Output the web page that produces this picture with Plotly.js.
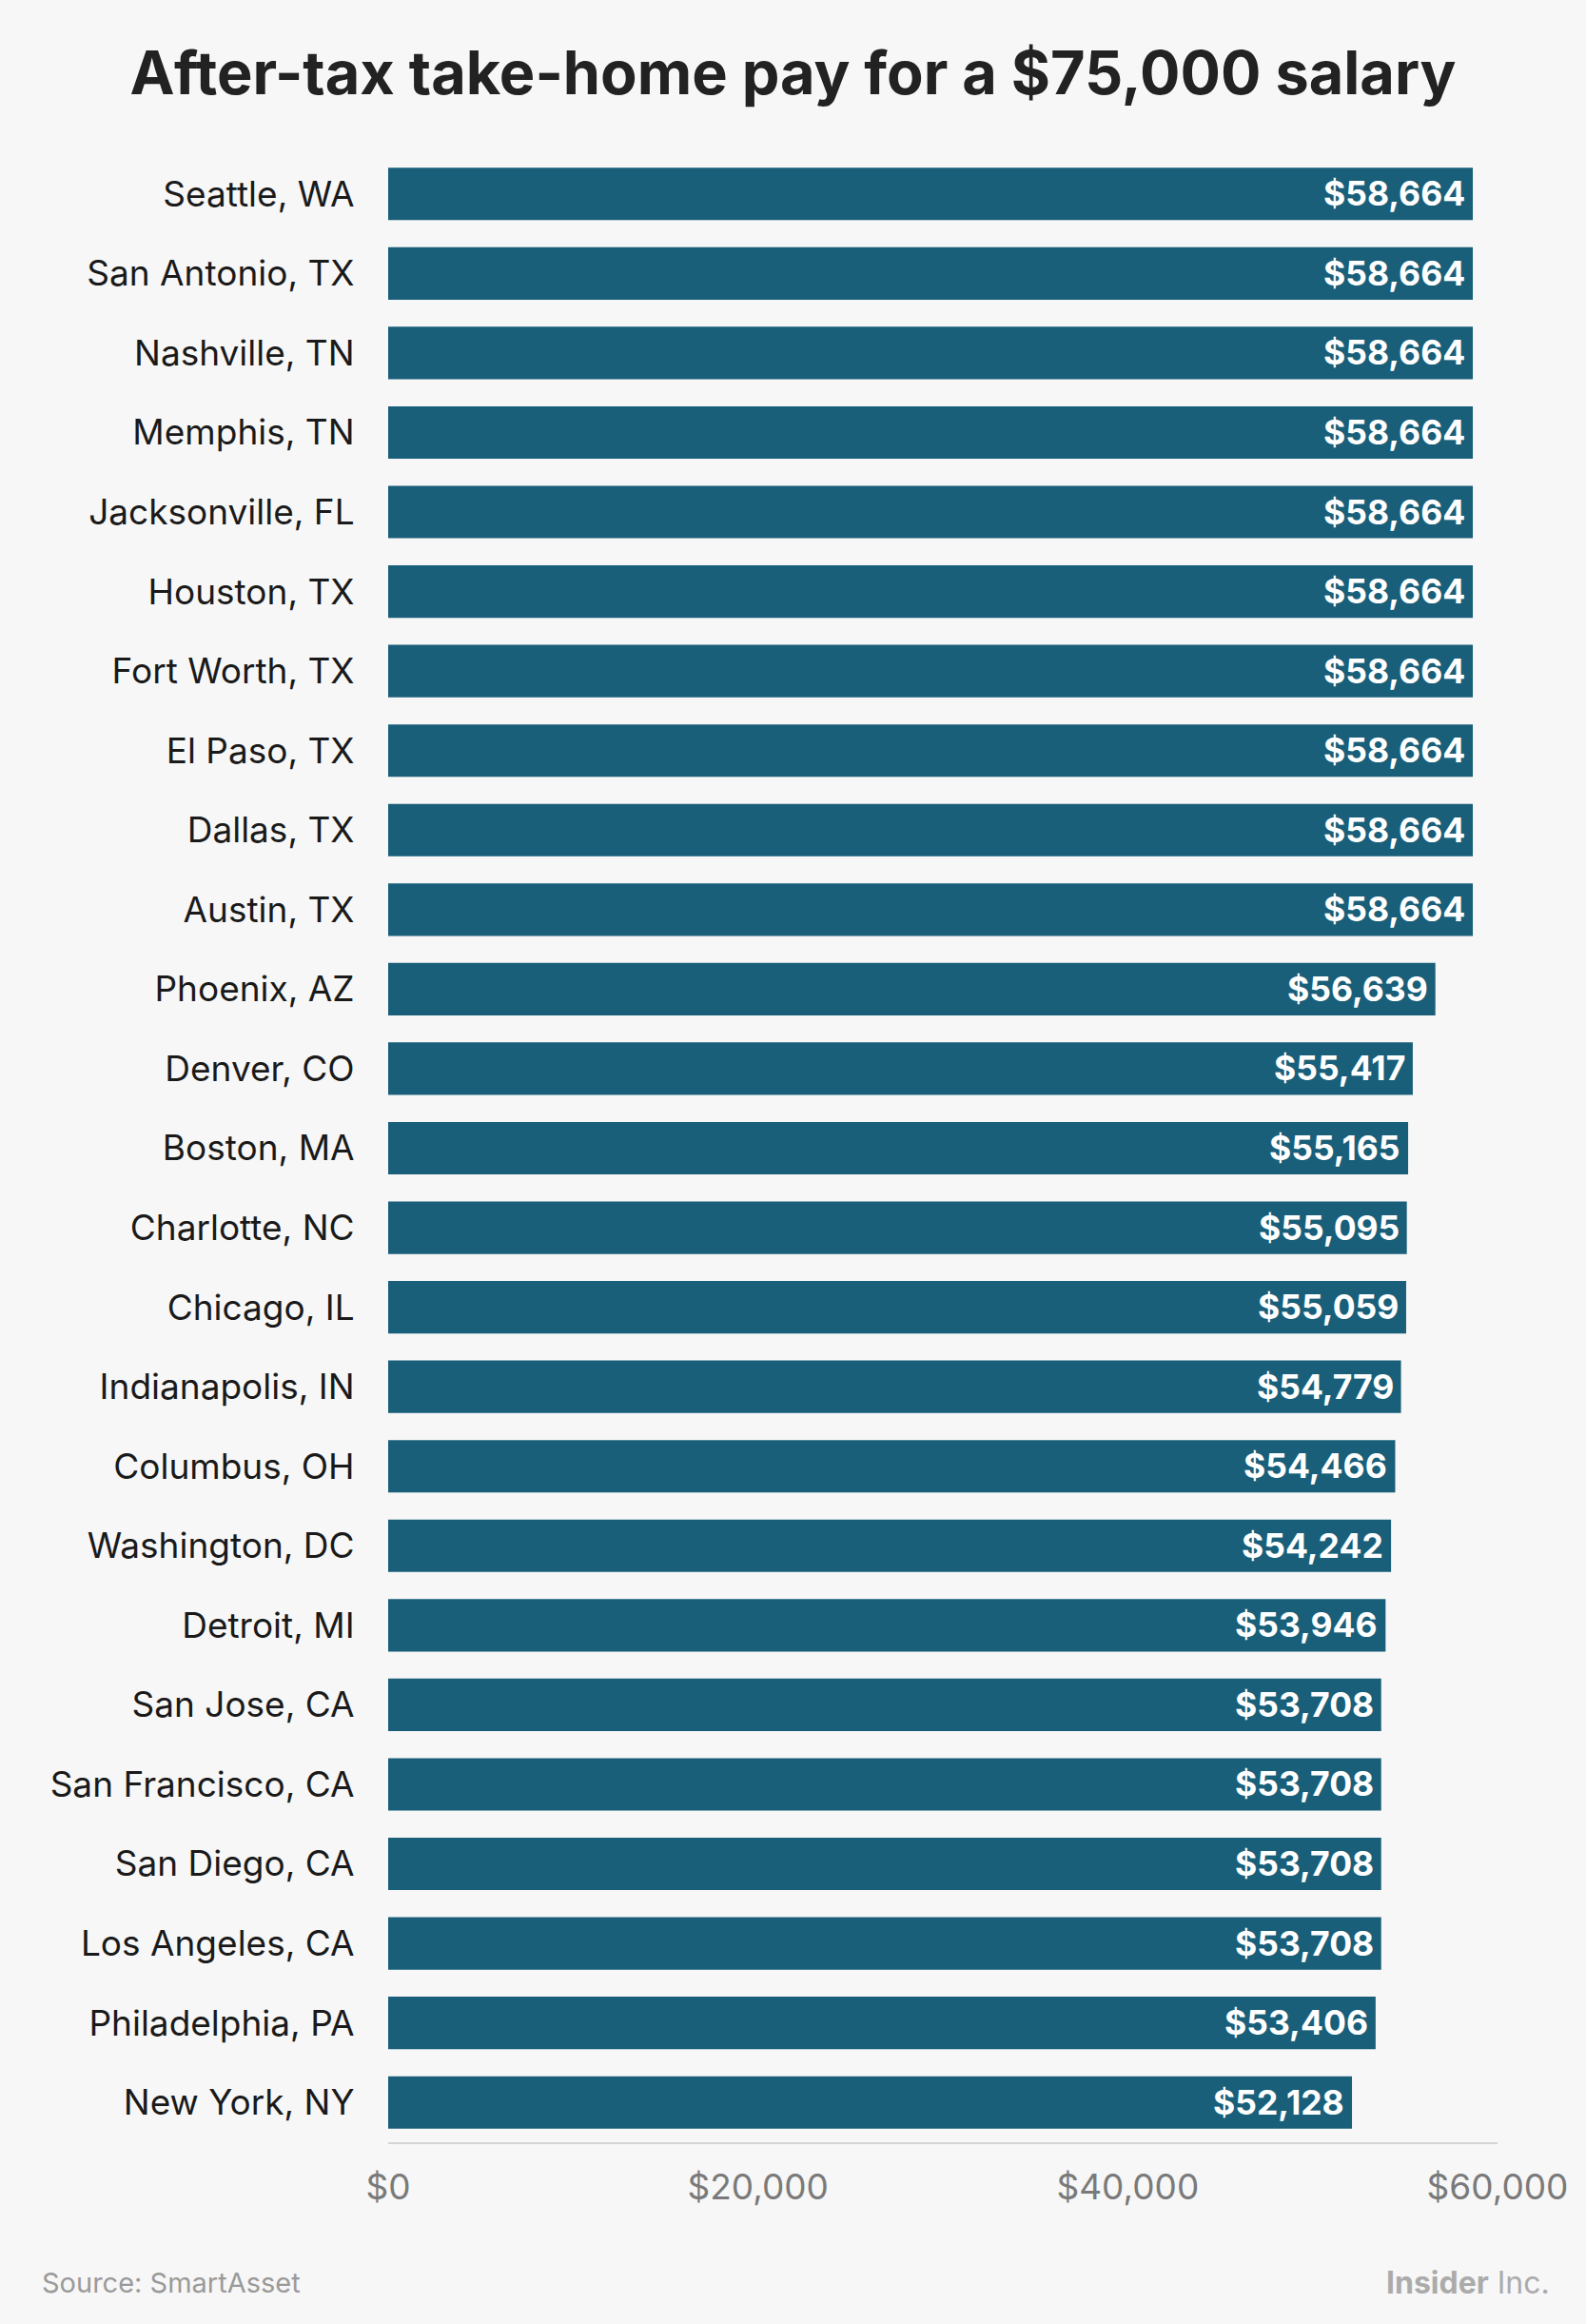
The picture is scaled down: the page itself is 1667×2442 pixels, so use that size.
<!DOCTYPE html>
<html>
<head>
<meta charset="utf-8">
<script src="https://cdn.plot.ly/plotly-3.0.1.min.js"></script>
<style>
  html, body { margin: 0; padding: 0; background: #f7f7f7; }
  #chart { width: 1667px; height: 2442px; }
</style>
</head>
<body>
<div id="chart"></div>
<script>
const cities = [
  "Seattle, WA", "San Antonio, TX", "Nashville, TN", "Memphis, TN", "Jacksonville, FL",
  "Houston, TX", "Fort Worth, TX", "El Paso, TX", "Dallas, TX", "Austin, TX",
  "Phoenix, AZ", "Denver, CO", "Boston, MA", "Charlotte, NC", "Chicago, IL",
  "Indianapolis, IN", "Columbus, OH", "Washington, DC", "Detroit, MI", "San Jose, CA",
  "San Francisco, CA", "San Diego, CA", "Los Angeles, CA", "Philadelphia, PA", "New York, NY"
];
const takeHomePay = [
  58664, 58664, 58664, 58664, 58664,
  58664, 58664, 58664, 58664, 58664,
  56639, 55417, 55165, 55095, 55059,
  54779, 54466, 54242, 53946, 53708,
  53708, 53708, 53708, 53406, 52128
];
const xTickValues = [0, 20000, 40000, 60000];
const xTickLabels = ["$0", "$20,000", "$40,000", "$60,000"];
const titleText = "After-tax take-home pay for a $75,000 salary";
const sourceText = "Source: SmartAsset";

const fmt = v => "$" + v.toLocaleString("en-US");

const barColor = "#1a5f7a";
const FONT = "Inter, 'Noto Sans', Roboto, sans-serif";

const trace = {
  type: "bar",
  orientation: "h",
  x: takeHomePay,
  y: cities,
  marker: { color: barColor, line: { width: 0 } },
  hoverinfo: "none",
  cliponaxis: false
};

const valueLabels = takeHomePay.map((v, i) => ({
  x: v, y: cities[i], xref: "x", yref: "y",
  text: fmt(v), showarrow: false,
  xanchor: "right", yanchor: "middle", xshift: -6,
  font: { family: FONT, size: 35.5, color: "#ffffff", weight: 700 }
}));

const footer = [
  {
    xref: "paper", yref: "paper", x: -0.314, y: -0.0705,
    xanchor: "left", yanchor: "middle", showarrow: false,
    text: sourceText,
    font: { family: FONT, size: 29, color: "#9a9a9a" }
  },
  {
    xref: "paper", yref: "paper", x: 1.0485, y: -0.0705,
    xanchor: "right", yanchor: "middle", showarrow: false,
    text: "<b>Insider</b> Inc.",
    font: { family: FONT, size: 32, color: "#ababab" }
  }
];

const layout = {
  width: 1667,
  height: 2442,
  paper_bgcolor: "#f7f7f7",
  plot_bgcolor: "#f7f7f7",
  margin: { l: 408, r: 93, t: 162, b: 191, pad: 0 },
  title: {
    text: "<b>" + titleText + "</b>",
    xref: "container", x: 0.5, xanchor: "center",
    yref: "container", y: 1 - 77 / 2442, yanchor: "middle",
    font: { family: FONT, size: 63, color: "#222222" }
  },
  bargap: 0.34,
  showlegend: false,
  xaxis: {
    range: [0, 60000],
    tickvals: xTickValues,
    ticktext: xTickLabels,
    showgrid: false,
    zeroline: false,
    showline: true,
    linecolor: "#d4d4d4",
    linewidth: 2,
    ticks: "outside",
    ticklen: 14,
    tickcolor: "rgba(0,0,0,0)",
    tickfont: { family: FONT, size: 37, color: "#7a7a7a" },
    fixedrange: true
  },
  yaxis: {
    autorange: "reversed",
    type: "category",
    showgrid: false,
    zeroline: false,
    showline: false,
    ticks: "outside",
    ticklen: 27,
    tickcolor: "rgba(0,0,0,0)",
    tickfont: { family: FONT, size: 37, color: "#1a1a1a" },
    fixedrange: true
  },
  annotations: valueLabels.concat(footer)
};

Plotly.newPlot("chart", [trace], layout, { displayModeBar: false, staticPlot: true });
</script>
</body>
</html>
